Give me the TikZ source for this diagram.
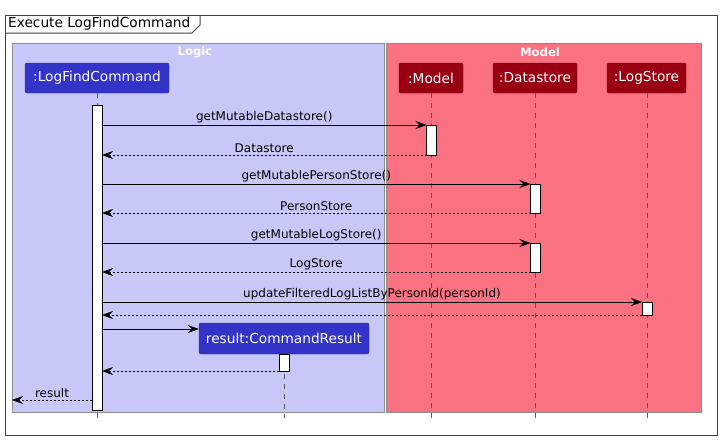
\documentclass[tikz,border=0pt]{standalone}
\usepackage{fontspec}
\setmainfont{DejaVu Sans}
\usetikzlibrary{arrows.meta}
\definecolor{logicbg}{RGB}{200,200,248}
\definecolor{modelbg}{RGB}{250,113,130}
\definecolor{logicpt}{RGB}{51,51,200}
\definecolor{modelpt}{RGB}{153,0,17}

\begin{document}
\begin{tikzpicture}[x=1pt,y=-1pt,
  frame/.style={draw=black!75,line width=1pt},
  box/.style={draw=black!45,line width=0.6pt},
  boxlabel/.style={text=white,font=\fontsize{11.7}{13}\selectfont\bfseries},
  logicpart/.style={draw=logicpt!70!black,fill=logicpt,text=white,rounded corners=2pt,
    minimum height=30pt,inner sep=0pt,font=\fontsize{13.7}{15}\selectfont},
  modelpart/.style={logicpart,draw=modelpt!70!black,fill=modelpt},
  lifeline/.style={draw=black!65,line width=0.6pt,dash pattern=on 5pt off 5pt},
  actbar/.style={draw=black,fill=white,line width=0.8pt,minimum width=10pt,inner sep=0pt,outer sep=0pt},
  msg/.style={draw=black,line width=0.7pt,-{Stealth[length=11pt,width=8pt,inset=4pt]}},
  ret/.style={msg,dash pattern=on 2pt off 2pt},
  lbl/.style={above,inner sep=2pt,font=\fontsize{12}{14}\selectfont}]

\useasboundingbox (0,0) rectangle (721,440);

% frame and title
\draw[frame] (5,15) rectangle (717,435);
\draw[frame] (5,33) -- (192,33) -- (200,25) -- (200,15);
\node[anchor=west,inner sep=0pt,font=\fontsize{13.7}{15}\selectfont] (title) at (8,24) {Execute LogFindCommand};

% boxes
\fill[logicbg] (12,43) rectangle (384,412);
\draw[box] (12,43) rectangle (384,412);
\fill[modelbg] (386,43) rectangle (701,412);
\draw[box] (386,43) rectangle (701,412);
\node[boxlabel] (logic) at (195,52) {Logic};
\node[boxlabel] (model) at (540,52) {Model};

% participants
\node[logicpart,minimum width=144pt] (lfc) at (97,78) {:LogFindCommand};
\node[modelpart,minimum width=64pt] (mdl) at (431,78) {:Model};
\node[modelpart,minimum width=84pt] (ds) at (535,78) {:Datastore};
\node[modelpart,minimum width=79pt] (ls) at (646.5,78) {:LogStore};
\node[logicpart,minimum width=170pt,minimum height=31pt] (cr) at (284,338.5) {result:CommandResult};

% lifelines
\coordinate (lfcend) at (97,418);
\coordinate (mdlend) at (431.5,418);
\coordinate (dsend) at (535.5,418);
\coordinate (lsend) at (647,418);
\coordinate (crend) at (284,418);
\draw[lifeline] (lfc) -- (lfcend);
\draw[lifeline] (mdl.south -| mdlend) -- (mdlend);
\draw[lifeline] (ds.south -| dsend) -- (dsend);
\draw[lifeline] (ls.south -| lsend) -- (lsend);
\draw[lifeline] (cr) -- (crend);

% activations
\node[actbar,minimum height=305pt] (actL) at (97,257.5) {};
\node[actbar,minimum height=30pt] (actM) at (431.5,140) {};
\node[actbar,minimum height=29pt] (actD1) at (535.5,198.5) {};
\node[actbar,minimum height=29pt] (actD2) at (535.5,257.5) {};
\node[actbar,minimum height=13pt] (actS) at (647,308.5) {};
\node[actbar,minimum height=17pt] (actR) at (284,362.5) {};

% messages
\draw[msg] (actL.east |- actM.north) -- node[lbl] {getMutableDatastore()} (actM.north west);
\draw[ret] (actM.south west) -- node[lbl] {Datastore} (actL.east |- actM.south);
\draw[msg] (actL.east |- actD1.north) -- node[lbl] {getMutablePersonStore()} (actD1.north west);
\draw[ret] (actD1.south west) -- node[lbl] {PersonStore} (actL.east |- actD1.south);
\draw[msg] (actL.east |- actD2.north) -- node[lbl] {getMutableLogStore()} (actD2.north west);
\draw[ret] (actD2.south west) -- node[lbl] {LogStore} (actL.east |- actD2.south);
\draw[msg] (actL.east |- actS.north) -- node[lbl] {updateFilteredLogListByPersonId(personId)} (actS.north west);
\draw[ret] (actS.south west) -- (actL.east |- actS.south);
\draw[msg] (actL.east |- 0,329) -- (cr.west |- 0,329);
\draw[ret] (actR.south west) -- (actL.east |- actR.south);
\coordinate (caller) at (12,400);
\draw[ret] (actL.west |- caller) -- node[lbl] {result} (caller);

\end{tikzpicture}
\end{document}
